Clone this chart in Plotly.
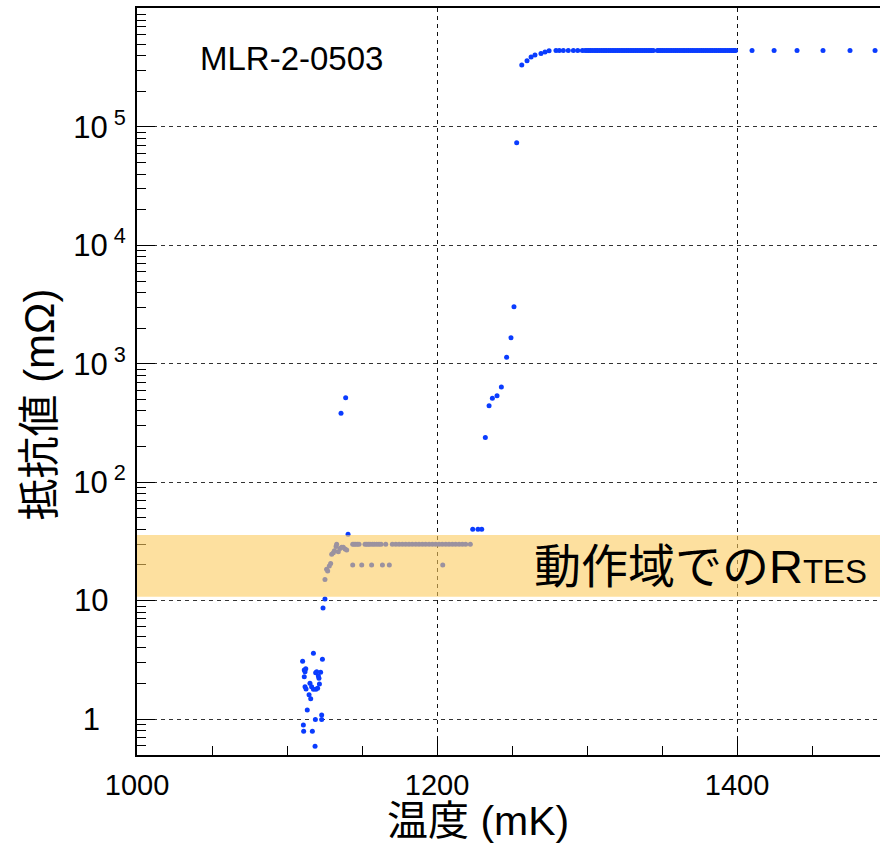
import plotly.graph_objects as go

# ---- data (temperature mK, resistance mOhm) ----
low_T = [1117.6, 1110.4, 1123.6, 1111.5, 1112.5, 1112.0, 1119.1, 1119.8, 1122.4, 1111.5,
         1120.9, 1121.3, 1115.3, 1112.0, 1112.7, 1116.4, 1117.6, 1119.3, 1120.4, 1121.6,
         1114.7, 1115.8, 1113.5, 1123.1, 1123.1, 1118.9, 1110.9, 1111.1, 1116.9, 1118.7]
low_R = [3.59, 3.07, 3.19, 2.59, 2.66, 2.51, 2.46, 2.51, 2.48, 2.28,
         2.31, 2.21, 2.00, 1.87, 1.79, 1.87, 1.78, 1.78, 1.82, 1.98,
         1.60, 1.48, 1.19, 1.08, 0.99, 0.99, 0.89, 0.79, 0.79, 0.59]

rise_T = [1124.0, 1125.3, 1125.3, 1126.4, 1127.1, 1128.2, 1129.1, 1129.8, 1130.9, 1131.6,
          1132.7, 1133.1, 1134.2, 1135.3, 1136.4, 1137.5, 1138.7, 1139.8, 1140.7, 1136.0, 1139.1]
rise_R = [8.66, 10.3, 15.1, 18.4, 17.8, 19.6, 20.6, 24.6, 25.4, 26.4,
          28.6, 29.9, 25.9, 27.6, 28.2, 28.2, 27.3, 26.7, 36.3, 382, 517]

band_hi_T = [1143.8, 1144.7, 1145.8, 1146.9, 1148.0, 1152.0, 1153.1, 1154.2, 1155.3, 1156.9,
             1158.2, 1159.8, 1161.3, 1162.7, 1165.8, 1170.2, 1172.5, 1174.7, 1176.9, 1179.1,
             1181.3, 1183.5, 1185.8, 1188.0, 1190.2, 1192.4, 1194.7, 1196.9, 1199.1, 1201.3,
             1203.5, 1205.8, 1208.0, 1210.2, 1212.4, 1214.7, 1216.9, 1219.1, 1222.2]
band_hi_R = [29.9, 29.9, 29.9, 29.9, 29.9, 29.9, 29.9, 29.9, 29.9, 29.9,
             29.9, 29.9, 29.9, 29.9, 29.9, 29.9, 29.9, 29.9, 29.9, 29.9,
             29.9, 29.9, 29.9, 29.9, 29.9, 29.9, 29.9, 29.9, 29.9, 29.9,
             29.9, 29.9, 29.9, 29.9, 29.9, 29.9, 29.9, 29.9, 29.9]
band_lo_T = [1143.8, 1149.8, 1156.4, 1163.6, 1168.2, 1203.8]
band_lo_R = [20.0, 20.0, 20.0, 20.0, 20.0, 20.0]

trans_T = [1223.8, 1227.3, 1229.8, 1232.2, 1234.7, 1236.9, 1240.0, 1242.9, 1246.4, 1249.3,
           1251.3, 1253.1, 1256.5, 1260.0, 1262.7, 1265.3, 1269.3, 1272.0, 1274.7]
trans_R = [40, 40, 40, 238, 443, 511, 538, 637, 1135, 1660,
           3035, 73700, 3.34e5, 3.63e5, 3.90e5, 4.05e5, 4.17e5, 4.30e5, 4.40e5]

plateau_T = [1279.3, 1281.5, 1284.2, 1287.5, 1290.9, 1293.8, 1296.9,
             1298.7, 1300.0, 1301.2, 1302.3, 1303.5, 1304.8, 1306.0, 1307.1, 1308.3, 1309.6,
             1310.8, 1312.0, 1313.1, 1314.4, 1315.6, 1316.8, 1318.0, 1319.2, 1320.4, 1321.6,
             1322.8, 1324.0, 1325.2, 1326.4, 1327.6, 1328.8, 1330.0, 1331.2, 1332.4, 1333.6,
             1334.8, 1336.0, 1337.2, 1338.4, 1339.6, 1340.8, 1342.0, 1343.1, 1344.2,
             1346.9, 1348.0, 1349.2, 1350.3, 1351.5, 1352.8, 1354.0, 1355.3, 1356.5, 1357.8,
             1359.0, 1360.2, 1361.5, 1362.7, 1364.0, 1365.2, 1366.5, 1367.7, 1369.0, 1370.2,
             1371.4, 1372.7, 1373.9, 1375.2, 1376.4, 1377.6, 1378.9, 1380.1, 1381.4, 1382.6,
             1383.8, 1385.1, 1386.3, 1387.6, 1388.8, 1390.0, 1391.3, 1392.5, 1393.8, 1395.0,
             1396.2, 1397.4, 1398.3, 1399.0,
             1410.0, 1424.7, 1440.0, 1457.3, 1475.3, 1492.0]
plateau_R = [4.43e5, 4.43e5, 4.43e5, 4.43e5, 4.43e5, 4.43e5, 4.43e5,
             4.43e5, 4.43e5, 4.43e5, 4.43e5, 4.43e5, 4.43e5, 4.43e5, 4.43e5, 4.43e5, 4.43e5,
             4.43e5, 4.43e5, 4.43e5, 4.43e5, 4.43e5, 4.43e5, 4.43e5, 4.43e5, 4.43e5, 4.43e5,
             4.43e5, 4.43e5, 4.43e5, 4.43e5, 4.43e5, 4.43e5, 4.43e5, 4.43e5, 4.43e5, 4.43e5,
             4.43e5, 4.43e5, 4.43e5, 4.43e5, 4.43e5, 4.43e5, 4.43e5, 4.43e5, 4.43e5,
             4.43e5, 4.43e5, 4.43e5, 4.43e5, 4.43e5, 4.43e5, 4.43e5, 4.43e5, 4.43e5, 4.43e5,
             4.43e5, 4.43e5, 4.43e5, 4.43e5, 4.43e5, 4.43e5, 4.43e5, 4.43e5, 4.43e5, 4.43e5,
             4.43e5, 4.43e5, 4.43e5, 4.43e5, 4.43e5, 4.43e5, 4.43e5, 4.43e5, 4.43e5, 4.43e5,
             4.43e5, 4.43e5, 4.43e5, 4.43e5, 4.43e5, 4.43e5, 4.43e5, 4.43e5, 4.43e5, 4.43e5,
             4.43e5, 4.43e5, 4.43e5, 4.43e5,
             4.43e5, 4.43e5, 4.43e5, 4.43e5, 4.43e5, 4.43e5]

band_range = [10.8, 35.8]  # operating region R_TES (mOhm)

x_tickvals = [1000, 1200, 1400]
x_ticktext = ["1000", "1200", "1400"]
y_tickvals = [1, 10, 100, 1e3, 1e4, 1e5]
y_ticktext = ["1\u00a0\u00a0\u00a0", "10\u00a0\u00a0", "10<sup> 2</sup>", "10<sup> 3</sup>",
              "10<sup> 4</sup>", "10<sup> 5</sup>"]

T_all = low_T + rise_T + band_hi_T + band_lo_T + trans_T + plateau_T
R_all = low_R + rise_R + band_hi_R + band_lo_R + trans_R + plateau_R

FONT = "Liberation Sans, Noto Sans CJK JP, sans-serif"

fig = go.Figure()
fig.add_trace(go.Scatter(
    x=T_all, y=R_all, mode="markers",
    marker=dict(color="#0a3cff", size=5, line=dict(width=0)),
    showlegend=False, cliponaxis=True,
))

fig.add_shape(type="rect", xref="paper", yref="y", x0=0, x1=1,
              y0=band_range[0], y1=band_range[1],
              fillcolor="#FBCB5F", opacity=0.6, line=dict(width=0), layer="above")

fig.add_annotation(xref="paper", yref="paper", x=0.985, y=0.252,
                   xanchor="right", yanchor="middle", showarrow=False,
                   text='動作域でのR<span style="font-size:33px">TES</span>',
                   font=dict(family=FONT, size=47, color="black"))

fig.add_annotation(xref="paper", yref="paper", x=0.082, y=0.933,
                   xanchor="left", yanchor="middle", showarrow=False,
                   text="MLR-2-0503", font=dict(family=FONT, size=33, color="black"))

# axis titles placed as annotations (pixel-matched positions)
fig.add_annotation(xref="paper", yref="paper", x=(478 - 137) / 743, y=-(821 - 755) / 746,
                   xanchor="center", yanchor="middle", showarrow=False,
                   text="温度 (mK)", font=dict(family=FONT, size=41, color="black"))
fig.add_annotation(xref="paper", yref="paper", x=-(137 - 40) / 743, y=(755 - 405) / 746,
                   xanchor="center", yanchor="middle", showarrow=False, textangle=-90,
                   text="抵抗値 (mΩ)", font=dict(family=FONT, size=42, color="black"))

fig.update_xaxes(
    range=[1000, 1495.3], showline=True, linecolor="black", linewidth=2, mirror=True,
    tickmode="array", tickvals=x_tickvals, ticktext=x_ticktext,
    ticks="inside", ticklen=18, tickwidth=1, tickcolor="black",
    ticklabelstandoff=3,
    tickfont=dict(family=FONT, size=29, color="black"),
    showgrid=True, gridcolor="#111", gridwidth=1, griddash="4px,4px",
    zeroline=False,
    minor=dict(ticks="inside", ticklen=9, tickwidth=1, tickcolor="black",
               tickmode="linear", tick0=1000, dtick=50, showgrid=False),
)
fig.update_yaxes(
    type="log", range=[-0.304, 6.005], showline=True, linecolor="black", linewidth=2,
    mirror=False,
    tickmode="array", tickvals=y_tickvals, ticktext=y_ticktext,
    ticks="inside", ticklen=18, tickwidth=1, tickcolor="black",
    ticklabelstandoff=3,
    tickfont=dict(family=FONT, size=31, color="black"),
    showgrid=True, gridcolor="#333", gridwidth=1, griddash="4px,4px",
    zeroline=False,
    minor=dict(ticks="inside", ticklen=9, tickwidth=1, tickcolor="black",
               dtick="D1", showgrid=False),
)

fig.update_layout(
    width=880, height=847,
    margin=dict(l=137, r=0, t=8, b=92),
    paper_bgcolor="white", plot_bgcolor="white",
    font=dict(family=FONT, color="black"),
)

fig.write_html("out.html")
